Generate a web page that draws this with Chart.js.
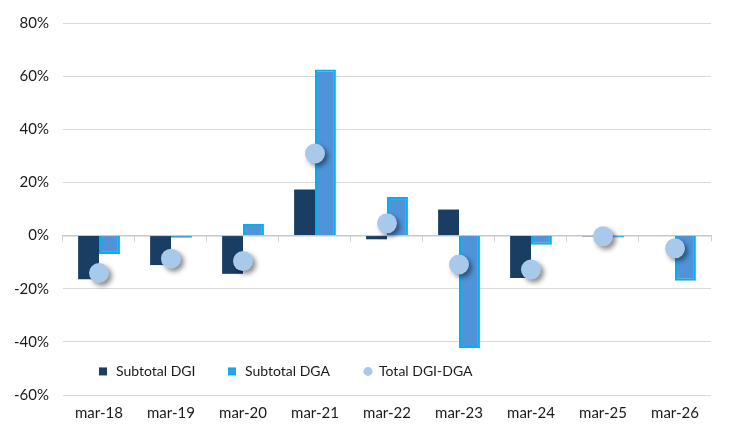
<!DOCTYPE html>
<html>
<head>
<meta charset="utf-8">
<script src="https://cdn.jsdelivr.net/npm/chart.js@4"></script>
<style>
  html, body { margin: 0; padding: 0; background: #fff; }
  #wrap { width: 738px; height: 428px; }
</style>
</head>
<body>
<div id="wrap"><canvas id="c"></canvas></div>
<script>
// categorías y valores (%)
const categories = ["mar-18", "mar-19", "mar-20", "mar-21", "mar-22", "mar-23", "mar-24", "mar-25", "mar-26"];
const subtotalDGI = [-16.4, -11.1, -14.4, 17.3, -1.4, 9.8, -16.0, -0.3, 0];
const subtotalDGA = [-6.9, -0.8, 4.4, 62.5, 14.5, -42.3, -3.5, -0.7, -17.0];
const totalDGIDGA = [-14.1, -8.7, -9.6, 30.9, 4.6, -10.9, -12.8, -0.3, -4.8];
const yTicks = [-60, -40, -20, 0, 20, 40, 60, 80];

const FONT = "Lato, 'Open Sans', sans-serif";

// sombra para los puntos del total
const shadowPlugin = {
    id: "pointShadow",
    beforeDatasetDraw(chart, args) {
        if (args.index !== 2) return;
        const ctx = chart.ctx;
        ctx.save();
        ctx.shadowColor = "rgba(0,0,0,0.45)";
        ctx.shadowBlur = 5;
        ctx.shadowOffsetX = 3;
        ctx.shadowOffsetY = 3;
    },
    afterDatasetDraw(chart, args) {
        if (args.index !== 2) return;
        chart.ctx.restore();
    }
};

// leyenda dentro del área del gráfico
const legendPlugin = {
    id: "innerLegend",
    afterDraw(chart) {
        const ctx = chart.ctx;
        const y = chart.scales.y.getPixelForValue(-50) + 3;
        ctx.save();
        ctx.font = "14px " + FONT;
        ctx.textBaseline = "middle";
        // Subtotal DGI
        ctx.fillStyle = "#1a3d64";
        ctx.fillRect(99, y - 4, 8, 8);
        ctx.fillStyle = "#1a1a1a";
        ctx.fillText(chart.data.datasets[0].label, 116, y);
        // Subtotal DGA
        ctx.fillStyle = "#00b0f0";
        ctx.fillRect(228, y - 4, 8, 8);
        ctx.fillStyle = "#4f94d9";
        ctx.fillRect(229.5, y - 2.5, 5, 5);
        ctx.fillStyle = "#1a1a1a";
        ctx.fillText(chart.data.datasets[1].label, 245, y);
        // Total
        ctx.fillStyle = "#a9c9eb";
        ctx.beginPath();
        ctx.arc(368, y, 4.5, 0, Math.PI * 2);
        ctx.fill();
        ctx.fillStyle = "#1a1a1a";
        ctx.fillText(chart.data.datasets[2].label, 379, y);
        ctx.restore();
    }
};

new Chart(document.getElementById("c"), {
    data: {
        labels: categories,
        datasets: [
            {
                type: "bar",
                label: "Subtotal DGI",
                data: subtotalDGI,
                backgroundColor: "#1a3d64",
                borderWidth: 0,
                order: 2
            },
            {
                type: "bar",
                label: "Subtotal DGA",
                data: subtotalDGA,
                backgroundColor: "#4f94d9",
                borderColor: "#00b0f0",
                borderWidth: 2,
                order: 2
            },
            {
                type: "line",
                label: "Total DGI-DGA",
                data: totalDGIDGA,
                showLine: false,
                pointRadius: 10,
                pointHoverRadius: 10,
                pointBackgroundColor: "#a9c9eb",
                pointBorderWidth: 0,
                order: 1
            }
        ]
    },
    options: {
        responsive: true,
        maintainAspectRatio: false,
        animation: false,
        layout: { padding: { top: 13, right: 27, bottom: 5, left: 0 } },
        datasets: {
            bar: { categoryPercentage: 0.58, barPercentage: 1.0 }
        },
        plugins: {
            legend: { display: false },
            tooltip: { enabled: false }
        },
        scales: {
            x: {
                position: "bottom",
                grid: { display: false },
                border: { display: false },
                ticks: { color: "#1a1a1a", font: { family: FONT, size: 15 }, padding: 1, maxRotation: 0 }
            },
            x0: {
                type: "category",
                labels: categories,
                position: { y: 0 },
                offset: true,
                grid: { display: true, drawOnChartArea: false, offset: true, tickLength: 5, color: "#d0d0d0" },
                border: { display: true, color: "#c8c8c8", width: 1.5 },
                ticks: { display: false }
            },
            y: {
                min: -60,
                max: 80,
                afterBuildTicks(axis) {
                    axis.ticks = yTicks.map(v => ({ value: v }));
                },
                grid: { color: "#d9d9d9", drawTicks: false },
                border: { display: false },
                ticks: {
                    color: "#1a1a1a",
                    font: { family: FONT, size: 15 },
                    padding: 14,
                    callback: v => v + "%"
                }
            }
        }
    },
    plugins: [shadowPlugin, legendPlugin]
});
</script>
</body>
</html>
